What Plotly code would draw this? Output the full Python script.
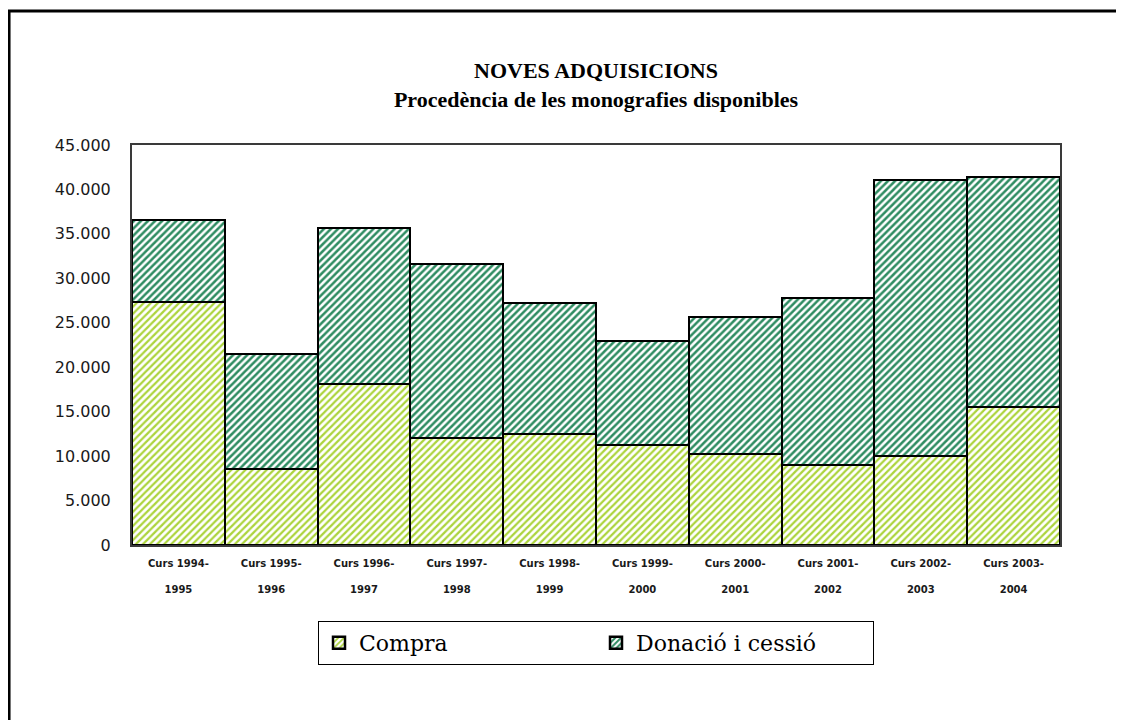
import plotly.graph_objects as go

# curs acadèmic (eix X)
cursos = ["1994-1995", "1995-1996", "1996-1997", "1997-1998", "1998-1999",
          "1999-2000", "2000-2001", "2001-2002", "2002-2003", "2003-2004"]

compra = [27300, 8500, 18100, 12000, 12450, 11200, 10200, 9000, 10050, 15500]
donacio = [9300, 13000, 17600, 19600, 14750, 11800, 15400, 18800, 31050, 25850]

y_ticks = [0, 5000, 10000, 15000, 20000, 25000, 30000, 35000, 40000, 45000]

COLORS = {
    "compra": "#acd43c",
    "donacio": "#2f8c62",
    "frame": "#000000",
    "axis": "#3a3a3a",
    "text": "#1a1a1a",
}

tick_labels = ["Curs " + c.split("-")[0] + "-<br> <br>" + c.split("-")[1] for c in cursos]

# the page body has an 8px margin, so the figure is a bit smaller than the window
W, H = 1116, 712

fig = go.Figure()
fig.add_trace(go.Bar(
    x=cursos, y=compra, name="Compra",
    marker=dict(
        color="white",
        line=dict(color="black", width=2.5),
        pattern=dict(shape="/", fgcolor=COLORS["compra"], bgcolor="white",
                     fgopacity=1, size=5, solidity=0.45),
    ),
))
fig.add_trace(go.Bar(
    x=cursos, y=donacio, name="Donació i cessió",
    marker=dict(
        color="white",
        line=dict(color="black", width=2.5),
        pattern=dict(shape="/", fgcolor=COLORS["donacio"], bgcolor="white",
                     fgopacity=1, size=5, solidity=0.5),
    ),
))

fig.update_layout(
    width=W,
    height=H,
    barmode="stack",
    bargap=0,
    separators=",.",
    paper_bgcolor="white",
    plot_bgcolor="white",
    margin=dict(l=124, r=64, t=137, b=175, autoexpand=False),
    title=dict(
        text="NOVES ADQUISICIONS<br>Procedència de les monografies disponibles",
        x=0.5, xref="paper", xanchor="center",
        y=1 - 70 / H, yref="container", yanchor="middle",
        font=dict(family="Liberation Serif", size=22, color="black", weight="bold"),
    ),
    showlegend=True,
    legend=dict(
        orientation="h",
        x=0.5, xanchor="center", xref="paper",
        y=-0.19, yanchor="top",
        bordercolor="black", borderwidth=1,
        bgcolor="white",
        entrywidth=232,
        font=dict(family="DejaVu Serif", size=22, color="black"),
        traceorder="normal",
    ),
    shapes=[dict(
        type="rect", xref="paper", yref="paper",
        x0=-0.1325, x1=1.3, y0=-0.7, y1=1.335,
        line=dict(color=COLORS["frame"], width=3),
        layer="below",
    )],
)

fig.update_xaxes(
    tickvals=cursos,
    ticktext=tick_labels,
    showgrid=False,
    showline=True, mirror=True,
    linecolor=COLORS["axis"], linewidth=2,
    ticks="",
    ticklabelstandoff=8,
    tickfont=dict(family="DejaVu Sans", size=10, color=COLORS["text"], weight="bold"),
)
fig.update_yaxes(
    range=[0, 45000],
    tickvals=y_ticks,
    tickformat=",d",
    showgrid=False,
    zeroline=False,
    showline=True, mirror=True,
    linecolor=COLORS["axis"], linewidth=2,
    ticks="",
    ticklabelstandoff=16,
    tickfont=dict(family="DejaVu Sans", size=16, color=COLORS["text"]),
)

fig.write_html("out.html")
